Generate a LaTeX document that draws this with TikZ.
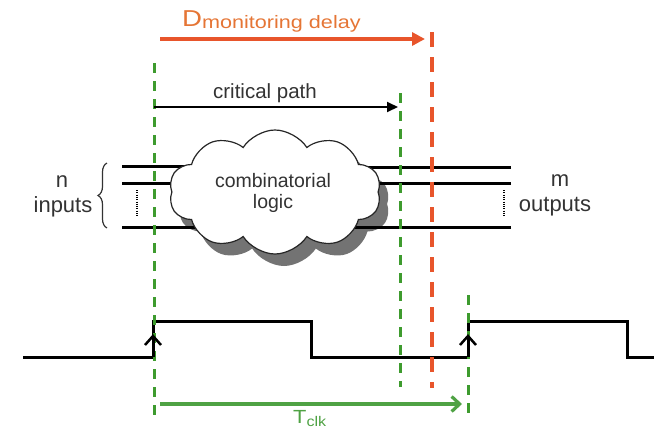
\documentclass[tikz,border=0pt]{standalone}
\usepackage{fontspec}
\setmainfont{Liberation Sans}
\usetikzlibrary{shapes.symbols,arrows.meta,decorations.pathreplacing}
\definecolor{dorange}{HTML}{E8552B}
\definecolor{lorange}{HTML}{E57535}
\definecolor{dgreen}{HTML}{3E9B2E}
\definecolor{lgreen}{HTML}{4FA244}
\definecolor{txt}{HTML}{333333}
\begin{document}
\begin{tikzpicture}[x=1pt,y=-1pt,
  gdash/.style={dgreen, line width=3pt, dash pattern=on 10pt off 8pt},
  odash/.style={dorange, line width=4.5pt, dash pattern=on 15pt off 10pt},
  sig/.style={black, line width=3pt},
  lbl/.style={text=txt, font=\fontsize{20}{22}\selectfont, inner sep=0pt, align=center},
  cloudbox/.style={cloud, cloud puffs=10, cloud puff arc=115, aspect=1.8, minimum width=212pt, minimum height=124pt, inner sep=0pt},
  dotv/.style={line width=1.4pt, dash pattern=on 0.9pt off 1.4pt},
  chev/.style={black, line width=2.5pt},
]
\useasboundingbox (0,0) rectangle (654,434);

% vertical dashed markers
\coordinate (gLt) at (154,63);  \coordinate (gLb) at (154,417);
\coordinate (gMt) at (400,93);  \coordinate (gMb) at (400,387);
\coordinate (oDt) at (432,32);  \coordinate (oDb) at (432,388);
\coordinate (gRt) at (468,295); \coordinate (gRb) at (468,417);

% cloud shadow, lines, cloud
\coordinate (cc) at (275,192);
\node[cloudbox, fill=black!55] (cshadow) at (284,204) {};
\coordinate (in1) at (122,166); \coordinate (in2) at (122,183); \coordinate (in3) at (122,227);
\coordinate (out1) at (511,167); \coordinate (out2) at (511,183); \coordinate (out3) at (511,227);
\draw[sig] (in1) -- (in1 -| cc);
\draw[sig] (in2) -- (in2 -| cc);
\draw[sig] (in3) -- (in3 -| cc);
\draw[sig] (out1) -- (out1 -| cc);
\draw[sig] (out2) -- (out2 -| cc);
\draw[sig] (out3) -- (out3 -| cc);
\node[cloudbox, draw=black!85, line width=1.2pt, fill=white] (cloud) at (cc) {};
\node[lbl, font=\fontsize{19.5}{21}\selectfont] (ctext) at (273,193) {combinatorial\\logic};

% dotted ellipses
\coordinate (dl1) at (137,190); \coordinate (dl2) at (137,216);
\coordinate (dr1) at (504,190); \coordinate (dr2) at (504,216);
\draw[dotv] (dl1) -- (dl2);
\draw[dotv] (dr1) -- (dr2);

% brace and labels
\coordinate (b1) at (107,228); \coordinate (b2) at (107,163);
\draw[decorate, decoration={brace, amplitude=9pt}, line width=1.2pt, txt] (b1) -- (b2);
\node[lbl, font=\fontsize{22}{23}\selectfont, anchor=base] (nlab) at (62,187) {n};
\node[lbl, font=\fontsize{22}{23}\selectfont, anchor=base] (inlab) at (63,212) {inputs};
\node[lbl, font=\fontsize{22}{23}\selectfont, anchor=base] (mlab) at (560,186) {m};
\node[lbl, font=\fontsize{22}{23}\selectfont, anchor=base] (outlab) at (555,211) {outputs};

% clock
\coordinate (k0) at (23,357);
\coordinate (k1) at (153,357); \coordinate (k2) at (153,321);
\coordinate (k3) at (311,321); \coordinate (k4) at (311,357);
\coordinate (k5) at (468,357); \coordinate (k6) at (468,321);
\coordinate (k7) at (627,321); \coordinate (k8) at (627,357);
\coordinate (k9) at (654,357);
\draw[sig, line join=miter] (k0) -- (k1) -- (k2) -- (k3) -- (k4) -- (k5) -- (k6) -- (k7) -- (k8) -- (k9);

% dashed markers drawn
\draw[gdash] (gLt) -- (gLb);
\draw[gdash] (gMt) -- (gMb);
\draw[gdash] (gRt) -- (gRb);
\draw[odash] (oDt) -- (oDb);

% rising-edge marks
\coordinate (e1) at (153,336); \coordinate (e2) at (468,336);
\draw[chev] ([shift={(-8,9)}]e1) -- (e1) -- ([shift={(8,9)}]e1);
\draw[chev] ([shift={(-8,9)}]e2) -- (e2) -- ([shift={(8,9)}]e2);
\draw[sig] (e1) -- (k1);
\draw[sig] (e2) -- (k5);

% arrows
\coordinate (oa1) at (160,39); \coordinate (oa2) at (425,39);
\draw[dorange, line width=4.5pt, -{Triangle[length=13pt,width=13pt]}] (oa1) -- (oa2);
\coordinate (ca1) at (154,107); \coordinate (ca2) at (398,107);
\draw[black, line width=2pt, -{Triangle[length=11pt,width=10pt]}] (ca1) -- (ca2);
\coordinate (ta1) at (160,404); \coordinate (ta2) at (462,404);
\draw[lgreen, line width=3.2pt, -{Straight Barb[length=8pt,width=15pt]}] (ta1) -- (ta2);

% texts
\node[lbl, font=\fontsize{20.5}{22}\selectfont, anchor=base] (cplab) at (265,98) {critical path};
\node[lbl, text=lorange, anchor=base west, xscale=1.2] (dlab) at (182,26)
  {{\fontsize{23}{23}\selectfont D}{\fontsize{18}{18}\selectfont\raisebox{-2pt}{monitoring delay}}};
\node[lbl, text=lgreen, anchor=base west, xscale=1.15] (tlab) at (293,423)
  {{\fontsize{19}{19}\selectfont T}{\fontsize{14}{14}\selectfont\raisebox{-3pt}{clk}}};
\end{tikzpicture}
\end{document}
